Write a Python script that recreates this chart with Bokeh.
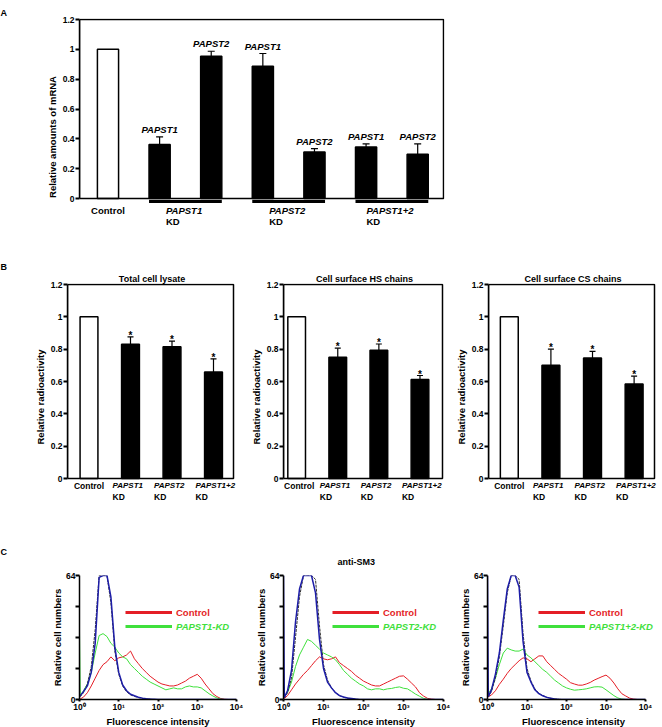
from bokeh.plotting import figure
from bokeh.layouts import column, row
from bokeh.models import (ColumnDataSource, Range1d, FixedTicker, Whisker, TeeHead,
                          Label, Arrow, Legend, LegendItem, BoxAnnotation, Title)
from bokeh.embed import file_html
from bokeh.resources import INLINE

FONT = "Liberation Sans"
RED = "#e41e26"
GREEN = "#3fe03c"
BLUE = "#1d1da8"
DARK = "#303030"

# ---------------- Panel A data ----------------
a_groups = ["Control", "PAPST1", "PAPST1", "PAPST2", "PAPST2", "PAPST1+2", "PAPST1+2"]
a_genes = ["", "PAPST1", "PAPST2", "PAPST1", "PAPST2", "PAPST1", "PAPST2"]
a_values = [1.0, 0.362, 0.954, 0.887, 0.312, 0.346, 0.297]
a_errors = [0.0, 0.051, 0.033, 0.085, 0.023, 0.020, 0.069]

ab_yticks = [0, 0.2, 0.4, 0.6, 0.8, 1.0, 1.2]
ab_yticklabels = ["0", "0.2", "0.4", "0.6", "0.8", "1", "1.2"]

# ---------------- Panel B data ----------------
b_categories = ["Control", "PAPST1", "PAPST2", "PAPST1+2"]
b_titles = ["Total cell lysate", "Cell surface HS chains", "Cell surface CS chains"]
b_lysate = [1.0, 0.830, 0.815, 0.658]
b_lysate_err = [0.0, 0.046, 0.035, 0.082]
b_hs = [1.0, 0.750, 0.793, 0.613]
b_hs_err = [0.0, 0.056, 0.039, 0.024]
b_cs = [1.0, 0.700, 0.745, 0.584]
b_cs_err = [0.0, 0.100, 0.041, 0.049]

# ---------------- Panel C data ----------------
c_decades = [0.0, 0.02, 0.1, 0.2, 0.3, 0.4, 0.5, 0.6, 0.7, 0.8, 0.9, 1.0, 1.1, 1.2, 1.3, 1.4,
             1.5, 1.6, 1.7, 1.8, 1.9, 2.0, 2.1, 2.2, 2.3, 2.4, 2.5, 2.6, 2.7, 2.8, 2.9, 3.0,
             3.1, 3.2, 3.3, 3.4, 3.5, 3.6, 3.7, 3.8, 3.9, 4.0]
c_xticks = [1, 10, 100, 1000, 10000]
c_xticklabels = ["10\u2070", "10\u00b9", "10\u00b2", "10\u00b3", "10\u2074"]
c_yticks = [0, 16, 32, 48, 64]
c_yticklabels = ["0", "", "", "", "64"]
c_kd_labels = ["PAPST1-KD", "PAPST2-KD", "PAPST1+2-KD"]

c1_blue = [2, 2, 4, 7, 14, 29, 63, 64, 64, 53, 27, 14, 7.5, 4.5, 2.7, 1.9, 1.2, 0.7, 0.4, 0.2, 0.1,
           0, 0, 0, 0, 0, 0, 0, 0, 0, 0, 0, 0, 0, 0, 0, 0, 0, 0, 0, 0, 0]
c1_dark = [1.5, 1.5, 3.5, 8, 17, 36, 64, 64, 64, 50, 25, 13, 7, 4, 2.4, 1.6, 1, 0.6, 0.3, 0.1, 0,
           0, 0, 0, 0, 0, 0, 0, 0, 0, 0, 0, 0, 0, 0, 0, 0, 0, 0, 0, 0, 0]
c1_control = [0.3, 0.3, 1.2, 3.5, 7, 11, 15, 18, 19.5, 22, 20, 21.5, 22, 23, 25, 21, 18.5, 16, 14, 12,
              10.5, 9, 8, 7.5, 7, 7, 7.5, 8.5, 9.5, 11, 12, 13, 11, 8, 5.5, 3, 1.5, 0.5, 0.1, 0, 0, 0]
c1_kd = [35, 2, 4.5, 8, 14, 24, 33, 34, 32.5, 29, 27, 24, 22, 21, 18, 16, 14, 12, 10.5, 9, 8, 7,
         6, 5, 5.5, 6, 5.5, 5.5, 6.5, 7, 6.5, 6.5, 6, 4.5, 3, 1.8, 0.8, 0.2, 0, 0, 0, 0]

c2_blue = [64, 1, 4.5, 15, 40, 57, 64, 64, 64, 55, 31, 16, 9, 6, 3.5, 2, 1.3, 0.8, 0.5, 0.2, 0,
           0, 0, 0, 0, 0, 0, 0, 0, 0, 0, 0, 0, 0, 0, 0, 0, 0, 0, 0, 0, 0]
c2_dark = [1, 1, 3.5, 11, 32, 53, 64, 64, 64, 62, 38, 18, 10, 6, 3.5, 2, 1.2, 0.7, 0.4, 0.1, 0,
           0, 0, 0, 0, 0, 0, 0, 0, 0, 0, 0, 0, 0, 0, 0, 0, 0, 0, 0, 0, 0]
c2_control = [0.5, 0.5, 2, 5, 8, 10.5, 13, 15, 17.5, 20, 22, 21, 20.5, 21, 22, 19, 17.5, 16, 14.5,
              12.5, 11, 9.5, 8.5, 7.5, 7, 7, 8, 9, 10, 11, 12, 12.2, 10.5, 8.5, 6.5, 3.5, 1.8, 0.6,
              0.2, 0, 0, 0]
c2_kd = [1, 1.4, 3.5, 9, 17, 23, 27, 31, 30, 28, 26, 24, 23, 22, 20.5, 18, 15, 13, 11, 9.5, 8, 7,
         5.5, 5, 5.5, 5.5, 5, 5.5, 5.7, 6.2, 6.5, 5.8, 5.5, 4.2, 2.8, 1.7, 0.6, 0.1, 0, 0, 0, 0]

c3_blue = [64, 1.5, 5, 13, 24, 41, 57, 64, 64, 58, 30, 14, 9, 5, 3, 1.9, 1.1, 0.6, 0.3, 0.1, 0,
           0, 0, 0, 0, 0, 0, 0, 0, 0, 0, 0, 0, 0, 0, 0, 0, 0, 0, 0, 0, 0]
c3_dark = [1.5, 1.5, 4, 11, 22, 38, 55, 64, 64, 62, 34, 16, 9.5, 5.5, 3.2, 2, 1.2, 0.7, 0.3, 0.1, 0,
           0, 0, 0, 0, 0, 0, 0, 0, 0, 0, 0, 0, 0, 0, 0, 0, 0, 0, 0, 0, 0]
c3_control = [1, 1.4, 2.3, 4.5, 7.8, 10.5, 13.5, 16, 18, 20, 21.5, 21, 19.5, 21, 22.5, 22.5, 19.5,
              17.5, 15.5, 13.5, 12, 10.5, 8.7, 8, 7.4, 7.4, 8, 8.8, 10, 10.9, 11.8, 12.6, 11, 8.5,
              5.5, 3, 1.8, 0.7, 0.2, 0, 0, 0]
c3_kd = [3, 3, 5.5, 11, 18, 24, 26.5, 25.6, 25, 25, 26, 23, 21.5, 19.5, 17.5, 15.5, 14, 12, 10,
         8.5, 7, 6, 5.3, 4.8, 5, 5.2, 5.5, 6, 6.5, 6.6, 6.4, 5, 3.5, 2, 0.8, 0.2, 0, 0, 0, 0, 0, 0]


# ---------------- helpers ----------------
def base_fig(fw, fh, bl, br, bt, bb, xr, yr, xtype="linear"):
    p = figure(frame_width=fw, frame_height=fh, x_range=xr, y_range=yr,
               x_axis_type=xtype, output_backend="svg", toolbar_location=None,
               title_location=None,
               min_border_left=bl, min_border_right=br,
               min_border_top=bt, min_border_bottom=bb)
    p.grid.visible = False
    p.outline_line_color = None
    p.background_fill_color = "white"
    p.border_fill_color = "white"
    return p


def style_axis(ax, label, tick_size="8.5px", label_size="9.5px",
               label_standoff=2, tick_out=4, major_standoff=1):
    ax.axis_label = label
    ax.axis_label_text_font = FONT
    ax.axis_label_text_font_style = "bold"
    ax.axis_label_text_font_size = label_size
    ax.axis_label_text_color = "black"
    ax.axis_label_standoff = label_standoff
    ax.major_label_text_font = FONT
    ax.major_label_text_font_style = "bold"
    ax.major_label_text_font_size = tick_size
    ax.major_label_text_color = "black"
    ax.major_label_standoff = major_standoff
    ax.major_tick_in = 0
    ax.major_tick_out = tick_out
    ax.minor_tick_in = 0
    ax.minor_tick_out = 0
    ax.major_tick_line_width = 2
    ax.major_tick_line_color = "black"
    ax.axis_line_width = 1.5
    ax.axis_line_color = "black"


def lab(p, x, y, text, size="9.5px", style="bold", align="center",
        baseline="middle", xo=0, yo=0, color="black"):
    p.add_layout(Label(x=x, y=y, text=text, x_offset=xo, y_offset=yo,
                       text_align=align, text_baseline=baseline,
                       text_font=FONT, text_font_size=size,
                       text_font_style=style, text_color=color))


def add_title(p, text, align, offset, standoff, size="9px"):
    t = Title(text=text, align=align, offset=offset, standoff=standoff,
              text_font=FONT, text_font_size=size, text_font_style="bold",
              text_color="black")
    p.add_layout(t, "above")


def draw_bars(p, names, values, errors, width, cap):
    xs = list(range(len(values)))
    fills = ["white" if n == "Control" else "black" for n in names]
    src = ColumnDataSource(dict(x=xs, top=values, fill=fills))
    p.vbar(x="x", top="top", bottom=0, width=width, fill_color="fill",
           line_color="black", line_width=1.5, source=src)
    keep = [i for i, e in enumerate(errors) if e > 0]
    esrc = ColumnDataSource(dict(base=[xs[i] for i in keep],
                                 lower=[values[i] for i in keep],
                                 upper=[values[i] + errors[i] for i in keep]))
    p.add_layout(Whisker(source=esrc, base="base", lower="lower", upper="upper",
                         dimension="height", line_color="black", line_width=1.2,
                         lower_head=None,
                         upper_head=TeeHead(size=cap, line_width=1.2, line_color="black")))
    return xs


def frame_box(p, left, right, top):
    p.add_layout(BoxAnnotation(left=left, right=right, bottom=0, top=top,
                               fill_color=None, fill_alpha=0,
                               line_color="black", line_alpha=1.0, line_width=1.5))


# ---------------- Panel A ----------------
A_PX = 179 / 1.2          # pixels per unit of the boxed area
A_XPX = 364 / 7.052       # pixels per category step
a_bar_w = 0.41
a_x0, a_x1 = -0.552, 6.5
pA = base_fig(365, 237, 79, 218, 18, 0,
              Range1d(a_x0, a_x1 + 1 / A_XPX), Range1d(-57 / A_PX, 1.2 + 1 / A_PX))
pA.xaxis.visible = False
style_axis(pA.yaxis[0], "Relative amounts of mRNA")
pA.yaxis.ticker = FixedTicker(ticks=ab_yticks)
pA.yaxis.major_label_overrides = dict(zip(ab_yticks, ab_yticklabels))
pA.yaxis.bounds = (0, 1.2)
frame_box(pA, a_x0, a_x1, 1.2)
xa = draw_bars(pA, a_groups, a_values, a_errors, a_bar_w, 7)

for i, gene in enumerate(a_genes):
    if gene:
        lab(pA, xa[i], a_values[i] + a_errors[i], gene, style="bold italic",
            baseline="bottom", yo=2)

lab(pA, 0, 0, "Control", yo=-12)
under_y = -3 / A_PX
for g in dict.fromkeys(a_groups):
    if g == "Control":
        continue
    idx = [i for i, gg in enumerate(a_groups) if gg == g]
    pA.add_layout(Arrow(start=None, end=None,
                        x_start=min(idx) - a_bar_w / 2, x_end=max(idx) + a_bar_w / 2,
                        y_start=under_y, y_end=under_y,
                        line_width=3, line_color="black"))
    c = sum(idx) / len(idx)
    off = -(3 * len(g) + 1.5)
    lab(pA, c, 0, g, style="bold italic", align="left", xo=off, yo=-12)
    lab(pA, c, 0, "KD", align="left", xo=off, yo=-23)

add_title(pA, "A", "left", -79, 2)

# ---------------- Panel B ----------------
B_PX = 194 / 1.2
b_sets = [(b_lysate, b_lysate_err), (b_hs, b_hs_err), (b_cs, b_cs_err)]
# box width, left border, right border, x start, x end, px per category
b_geom = [(166, 67, 2, -0.518, 3.482, 41.5),
          (159, 45, 7, -0.320, 3.548, 41.1),
          (166, 33, 8, -0.500, 3.490, 41.6)]
pBs = []
for k, ((vals, errs), (fw, bl, br, x0, x1, xpx), title) in enumerate(zip(b_sets, b_geom, b_titles)):
    p = base_fig(fw + 3, 227, bl, br, 28, 0,
                 Range1d(x0, x1 + 3 / xpx), Range1d(-32 / B_PX, 1.2 + 1 / B_PX))
    p.xaxis.visible = False
    style_axis(p.yaxis[0], "Relative radioactivity")
    p.yaxis.ticker = FixedTicker(ticks=ab_yticks)
    p.yaxis.major_label_overrides = dict(zip(ab_yticks, ab_yticklabels))
    p.yaxis.bounds = (0, 1.2)
    add_title(p, title, "center", 0, 0)
    if k == 0:
        add_title(p, "B", "left", -bl, 0)
    frame_box(p, x0, x1, 1.2)
    xb = draw_bars(p, b_categories, vals, errs, 0.43, 6)
    for i, cat in enumerate(b_categories):
        if cat == "Control":
            lab(p, xb[i], 0, cat, size="8.5px", xo=2.5 if k == 1 else 0, yo=-7)
        else:
            lab(p, xb[i], vals[i] + errs[i], "*", size="10px", baseline="bottom", yo=-4)
            lab(p, xb[i], 0, cat, size="8px", style="bold italic", align="left", xo=-18, yo=-7)
            lab(p, xb[i], 0, "KD", size="8.5px", align="left", xo=-18, yo=-18.5)
    pBs.append(p)

# ---------------- Panel C ----------------
fl = [10 ** d for d in c_decades]
c_sets = [(c1_blue, c1_dark, c1_control, c1_kd),
          (c2_blue, c2_dark, c2_control, c2_kd),
          (c3_blue, c3_dark, c3_control, c3_kd)]
# axis width, extra frame px beyond 10^4, left border, right border, legend x
c_geom = [(157, 0, 79, 17, 46), (160, 0, 29, 14, 49), (158, 14, 26, 8, 51)]
C_FH = 124


def add_legend(p, renderer, text, color, style, x, y):
    p.add_layout(Legend(items=[LegendItem(label=text, renderers=[renderer])],
                        location=(x, y), padding=0, margin=0, spacing=0,
                        border_line_color=None, background_fill_alpha=0,
                        inactive_fill_alpha=0,
                        glyph_width=47, glyph_height=14, label_height=14,
                        label_standoff=4, label_text_font=FONT,
                        label_text_font_size="9.5px", label_text_font_style=style,
                        label_text_color=color))


pCs = []
for k, ((blue, dark, ctrl, kd), (fw, ext, bl, br, lx), kdlab) in enumerate(zip(c_sets, c_geom, c_kd_labels)):
    x_end = 10 ** (4 + 4 * ext / fw)
    p = base_fig(fw + ext, C_FH, bl, br, 65, 28, Range1d(1, x_end), Range1d(0, 64), xtype="log")
    style_axis(p.yaxis[0], "Relative cell numbers", label_standoff=0, major_standoff=0)
    p.yaxis.ticker = FixedTicker(ticks=c_yticks)
    p.yaxis.major_label_overrides = dict(zip(c_yticks, c_yticklabels))
    style_axis(p.xaxis[0], "Fluorescence intensity", tick_size="8.5px",
               label_standoff=1, tick_out=2, major_standoff=0)
    p.xaxis.ticker = FixedTicker(ticks=c_xticks)
    p.xaxis.major_label_overrides = dict(zip(c_xticks, c_xticklabels))
    p.xaxis.bounds = (1, 10000)
    p.line(fl, ctrl, line_color=RED, line_width=1)
    p.line(fl, kd, line_color=GREEN, line_width=1)
    p.line(fl, dark, line_color=DARK, line_width=1, line_dash="3 1")
    p.line(fl, blue, line_color=BLUE, line_width=1.5)
    leg_r = p.line(fl, ctrl, line_color=RED, line_width=3, visible=False)
    leg_g = p.line(fl, kd, line_color=GREEN, line_width=3, visible=False)
    add_legend(p, leg_r, "Control", RED, "bold", lx, 80)
    add_legend(p, leg_g, kdlab, GREEN, "bold italic", lx, 66)
    if k == 0:
        add_title(p, "C", "left", -bl, 38)
    if k == 1:
        add_title(p, "anti-SM3", "left", 54, 18)
    pCs.append(p)

layout = column(pA, row(*pBs), row(*pCs))
open("out.html", "w").write(file_html(layout, INLINE))
